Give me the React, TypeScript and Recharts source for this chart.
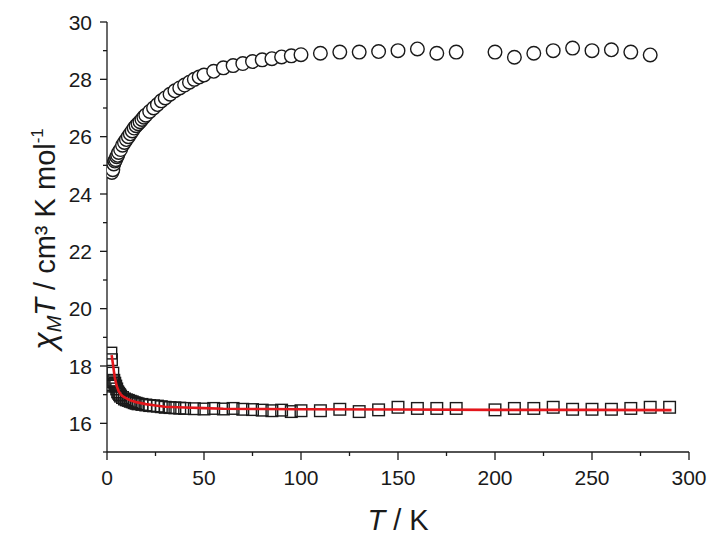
import { ScatterChart, Scatter, XAxis, YAxis } from 'recharts';

const FONT = '"Liberation Sans", Arial, Helvetica, sans-serif';
const INK = '#1a1a1a';

// upper branch (circles)
const circleT = [
  2, 2.5, 3, 3.5, 4, 4.5, 5, 5.5, 6, 7, 8, 9, 10, 11, 12, 13, 14, 15, 16, 17, 18, 19, 20,
  22, 24, 26, 28, 30, 32.5, 35, 37.5, 40, 42.5, 45, 47.5, 50, 55, 60, 65, 70, 75, 80, 85, 90, 95, 100,
  110, 120, 130, 140, 150, 160, 170, 180, 200, 210, 220, 230, 240, 250, 260, 270, 280,
];
const circleChi = [
  24.95, 24.75, 24.85, 25.05, 25.15, 25.2, 25.3, 25.35, 25.45, 25.55, 25.7, 25.8, 25.9, 26.0, 26.1, 26.2, 26.3, 26.38, 26.45, 26.52, 26.6, 26.68, 26.75,
  26.88, 27.0, 27.12, 27.25, 27.35, 27.48, 27.6, 27.7, 27.8, 27.9, 28.0, 28.08, 28.15, 28.28, 28.4, 28.48, 28.55, 28.62, 28.68, 28.72, 28.78, 28.82, 28.86,
  28.91, 28.95, 28.95, 28.97, 29.0, 29.06, 28.91, 28.95, 28.95, 28.77, 28.91, 29.0, 29.09, 29.0, 29.03, 28.95, 28.85,
];

// lower branch (squares)
const squareT = [
  2, 2.3, 3, 3.5, 2, 2.5, 3, 4, 4.5, 5, 5.5, 6, 6.5, 7, 8, 9, 10, 11, 12, 13, 14, 15, 16, 18, 20,
  22, 24, 26, 28, 30, 32.5, 35, 37.5, 40, 45, 50, 55, 60, 65, 70, 75, 80, 85, 90, 95, 100,
  110, 120, 130, 140, 150, 160, 170, 180, 200, 210, 220, 230, 240, 250, 260, 270, 280, 290,
];
const squareChi = [
  18.45, 18.22, 17.75, 17.5, 17.35, 17.3, 17.45, 17.4, 17.3, 17.2, 17.1, 17.05, 17.0, 16.95, 16.9, 16.85, 16.82, 16.8, 16.77, 16.75, 16.72, 16.7, 16.68, 16.66, 16.64,
  16.62, 16.61, 16.6, 16.58, 16.56, 16.55, 16.54, 16.53, 16.52, 16.51, 16.5, 16.52, 16.5, 16.52, 16.49, 16.48, 16.46, 16.44, 16.46, 16.41, 16.44,
  16.44, 16.49, 16.41, 16.47, 16.56, 16.52, 16.52, 16.52, 16.47, 16.52, 16.52, 16.56, 16.49, 16.49, 16.49, 16.52, 16.56, 16.56,
];

// fit (red line)
const fitT = [2.4, 3, 3.5, 4, 5, 6, 7, 8, 10, 12, 15, 20, 25, 30, 40, 50, 60, 80, 100, 150, 200, 250, 291];
const fitChi = [18.38, 18.1, 17.85, 17.6, 17.3, 17.12, 17.02, 16.95, 16.87, 16.8, 16.74, 16.67, 16.62, 16.58, 16.55, 16.53, 16.51, 16.5, 16.49, 16.48, 16.47, 16.47, 16.46];

const xTicks = [0, 25, 50, 75, 100, 125, 150, 175, 200, 225, 250, 275, 300];
const yTicks = [15, 16, 17, 18, 19, 20, 21, 22, 23, 24, 25, 26, 27, 28, 29, 30];

const circles = circleT.map((t, i) => ({ t, chi: circleChi[i] }));
const squares = squareT.map((t, i) => ({ t, chi: squareChi[i] }));
const fit = fitT.map((t, i) => ({ t, chi: fitChi[i] }));

function XTick(props: any) {
  const { x, y, payload } = props;
  const v = payload.value;
  const major = v % 50 === 0;
  return (
    <g>
      <line x1={x} x2={x} y1={y} y2={y + (major ? 8 : 4)} stroke={INK} strokeWidth={1.3} />
      {major && (
        <text x={x} y={y + 33} textAnchor="middle" fontSize={21} fontFamily={FONT} fill={INK}>
          {v}
        </text>
      )}
    </g>
  );
}

function YTick(props: any) {
  const { x, y, payload } = props;
  const v = payload.value;
  const major = v % 2 === 0;
  return (
    <g>
      <line x1={x} x2={x - (major ? 7 : 4)} y1={y} y2={y} stroke={INK} strokeWidth={1.3} />
      {major && (
        <text x={x - 15} y={y + 7.5} textAnchor="end" fontSize={21} fontFamily={FONT} fill={INK}>
          {v}
        </text>
      )}
    </g>
  );
}

function XLabel(props: any) {
  const { viewBox } = props;
  const cx = viewBox.x + viewBox.width / 2;
  return (
    <text x={cx} y={530} textAnchor="middle" fontSize={29} fontFamily={FONT} fill={INK}>
      <tspan fontStyle="italic">T</tspan>
      <tspan> / K</tspan>
    </text>
  );
}

function YLabel(props: any) {
  const { viewBox } = props;
  const cy = viewBox.y + viewBox.height / 2 + 2;
  const bx = 55;
  return (
    <text
      x={bx}
      y={cy}
      transform={`rotate(-90 ${bx} ${cy})`}
      textAnchor="middle"
      fontSize={29}
      fontFamily={FONT}
      fill={INK}
    >
      <tspan fontStyle="italic" fontSize={32}>χ</tspan>
      <tspan fontStyle="italic" fontSize={20} dy={6}>M</tspan>
      <tspan fontStyle="italic" dy={-6}>T</tspan>
      <tspan> / cm³ K mol</tspan>
      <tspan fontSize={17} dy={-12}>-1</tspan>
    </text>
  );
}

const circleShape = (p: any) => (
  <circle cx={p.cx} cy={p.cy} r={6.8} fill="#fff" stroke={INK} strokeWidth={1.4} />
);
const squareShape = (p: any) => (
  <rect x={p.cx - 5.8} y={p.cy - 5.8} width={11.6} height={11.6} fill="none" stroke={INK} strokeWidth={1.4} />
);

export default function App() {
  return (
    <div style={{ position: 'absolute', left: 0, top: 0, background: '#fff' }}>
      <ScatterChart width={712} height={537} margin={{ top: 22, right: 23, bottom: 25, left: 0 }}>
        <XAxis
          type="number"
          dataKey="t"
          domain={[0, 300]}
          ticks={xTicks}
          interval={0}
          height={60}
          tickSize={0}
          tickMargin={0}
          tick={<XTick />}
          axisLine={{ stroke: INK, strokeWidth: 1.3 }}
          tickLine={false}
          label={<XLabel />}
          allowDataOverflow
        />
        <YAxis
          type="number"
          dataKey="chi"
          domain={[15, 30]}
          ticks={yTicks}
          interval={0}
          width={107}
          tickSize={0}
          tickMargin={0}
          tick={<YTick />}
          axisLine={{ stroke: INK, strokeWidth: 1.3 }}
          tickLine={false}
          label={<YLabel />}
          allowDataOverflow
        />
        <Scatter data={squares} shape={squareShape} isAnimationActive={false} />
        <Scatter data={circles} shape={circleShape} isAnimationActive={false} />
        <Scatter
          data={fit}
          line={{ stroke: '#e3161b', strokeWidth: 2.6 }}
          lineType="joint"
          shape={() => null}
          isAnimationActive={false}
        />
      </ScatterChart>
    </div>
  );
}
